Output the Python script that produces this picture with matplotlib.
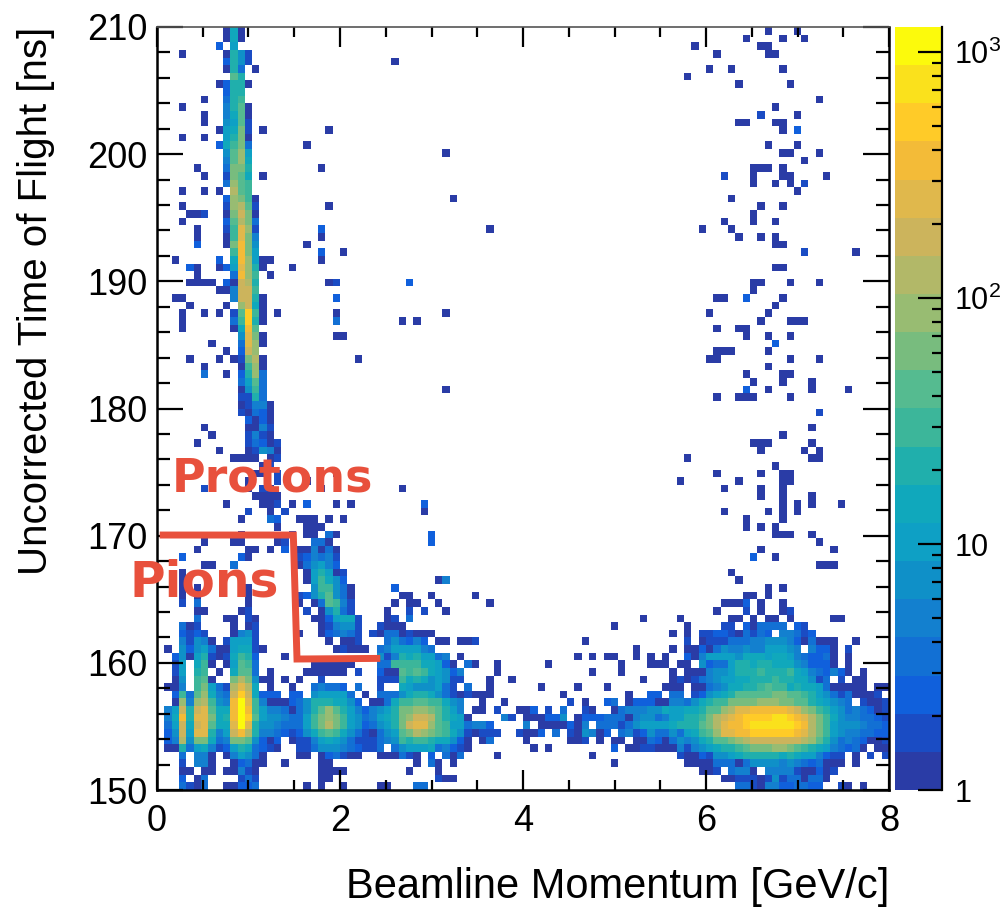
import numpy as np
import matplotlib
matplotlib.use("Agg")
import matplotlib.pyplot as plt
from matplotlib.colors import ListedColormap, LogNorm
from matplotlib.ticker import FixedLocator, MultipleLocator, NullFormatter

plt.rcParams['font.family'] = ['Liberation Sans', 'DejaVu Sans']
plt.rcParams['mathtext.fontset'] = 'custom'
plt.rcParams['mathtext.rm'] = 'Liberation Sans'

# 100 x 100 bins, rows from the top of the plot down
x_edges = np.linspace(0, 8, 101)
y_edges = np.linspace(210, 150, 101)
z_max = 1265

band_colors = ['#2a3ca6', '#1a4cc4', '#1060dc', '#1270d4', '#1380cf', '#0f90c8', '#0ea0c5',
               '#10a8bc', '#20afac', '#3cb69a', '#55bb90', '#78bc7e', '#98bc72', '#b2b868',
               '#ccb45c', '#e0b84c', '#f3bb38', '#ffcb28', '#fae11c', '#fcfa0c']
band_codes = "0123456789abcdefghij"

# colour band: "start_column:bands", "." = empty cell
rows_top = [
    "9:070 83:0 87:0",
    "9:070 80:0 85:0 88:0",
    "8:2.6 73:0 82:00",
    "3:0 9:0851 76:0 83:00",
    "9:2851 32:0",
    "9:083.0 75:0 78:0 85:0",
    "10:a8 72:0",
    "8:02880 79:0 86:0",
    "9:288",
    "6:0 9:389 90:0",
    "3:0 9:48a0 84:0",
    "6:0 9:47a0 82:1 87:0",
    "6:0 9:56a1 79:00 84:00",
    "8:067b1.0 23:0 85:0 87:2",
    "3:0 6:0 9:68b0",
    "8:279b3 20:0 83:0 87:0",
    "9:5ac6 39:0 85:00 90:0",
    "9:4ac7 88:0",
    "5:0 9:3bb8 22:0 81:000 85:0",
    "6:0 9:1ba7 14:0 77:1 81:0 85:00 91:0",
    "9:3ca9 81:0 84:0 86:0 88:1",
    "3:0 6:0 8:0.da9 87:0",
    "9:2cb90 40:0 78:0",
    "3:0 9:1cda1 23:0 82:0 85:0",
    "4:001 9:0beb0 81:0",
    "3:0 9:2adb3 77:0 81:0 84:0",
    "5:0 9:19fc1 22:2 45:0 74:0 78:0",
    "5:0 9:09fb4 22:0 79:0 82:0 84:0",
    "5:2 9:0bgb5 20:0 84:00",
    "10:9gb6 22:2 25:0 88:1 95:0",
    "2:0 8:2 10:7gc600 22:0",
    "4:20 8:02 10:6fc80 18:0 84:00",
    "5:0 10:3gc9 15:0",
]
rows_mid = [
    "4:0000 9:20ed8 23:01 34:2 81:00 86:0 90:0",
    "8:00 10:4ee9 81:0",
    "2:00 10:4ee80 24:2 76:00 80:2 85:0",
    "4:0 9:0 11:ce70 84:0",
    "3:0 6:0 8:0 10:1ah90 16:0 24:0 39:0 75:0 83:0",
    "3:0 10:39h80 24:3 33:0 35:0 82:0 86:000",
    "3:0 10:07ga 76:0 79:00",
    "11:5fb0 24:00 80:0 83:0 86:0",
    "7:0 11:3fc0 84:2",
    "9:0 11:2ec 76:000 83:0",
    "4:0 8:0 10:01bd0 27:0 75:00 86:0 90:0",
    "6:0 11:09c0 83:0",
    "6:3 9:0 11:28c3 80:0 85:00",
    "11:36a3 81:0 85:0 89:0",
    "11:0593 39:0 80:2 83:0 89:0 94:0",
    "11:1183 76:0 79:000 86:0",
    "11:01440",
    "11:10320 90:1",
    "12:2020",
    "6:0 12:0041 89:0",
    "7:0 12:1410 85:0",
    "5:0 12:13201 81:000 89:0",
    "8:0 12:01540 82:0 88:0 90:0",
    "10:0000 15:01 72:0 89:00",
    "14:01 84:0",
    "13:00 16:1 24:0 76:0 82:0 85:00",
    "12:0 16:1 20:0 71:0 79:0 85:00",
    "6:1 12:0 14:10 22:0 33:0 77:0 82:0 85:0",
    "13:0000 82:0 85:0 89:0",
    "9:0 14:001 18:0 20:2 24:0 26:0 36:2 85:0 87:0 89:0 93:0",
    "12:1 15:0 17:1 36:0 77:0 83:0 85:0 87:0",
    "11:0 15:32 19:000 23:0 25:0 80:0 85:0",
    "16:0 20:000 80:0 82:0 84:0",
    "11:0 18:1 20:00 23:30 37:2 84:000 89:0",
]
rows_low = [
    "6:0 10:00 16:01 21:330 37:2 90:0",
    "5:0 12:00 15:0 17:2 19:004030 82:0 92:0",
    "3:2 11:20 19:124341 81:2 84:0",
    "6:00 10:3 19:035642 90:000",
    "3:0 20:068601 78:0",
    "3:0 20:069752 38:04 79:0",
    "3:0 5:0 12:0 21:599530 32:2 83:0 85:0",
    "3:0 5:0 12:0 19:1258a530 33:00 37:0 43:0 80:00 83:0",
    "3:1 5:3 12:0 19:0.03a941 32:0 34:00 38:0 45:0 77:000 80:2 82:0 85:0",
    "5:00 11:01 20:1 22:05831 31:0 34:1 36:1 39:0 76:0 80:1 82:0 85:01",
    "5:3 9:00 12:10 21:0026771 31:01 34:3 66:0 71:0 78:00 81:0 83:00 86:0 92:00",
    "3:301 10:0.01 22:014551 30:1000 62:0 72:0 77:11.203333.21",
    "3:2121 10:0451 19:0 22:023431 29:103301000 70:0.0.1122103132.44312",
    "3:41540.16661 23:0.001 31:353242.00.001 58:0 72:1.0111333445554203000..0",
    "1:0 3:525630067710 24:01000 30:34666643 65:0 70:0.0020354454466654.4220.1",
    "2:250681017982 17:0 30:5148786634.0 57:0.0.00..0 67:0.0 72:204666657776776432230.0",
    "2:16.790.06a93 21:000000 30:33999977620.30..0 53:0 63:0 67:000.00.5233688788777542220.0",
    "2:16.89.0.7aa3.0 20:000000 27:1 30:200a9a976524 46:0 59:0 63:0 70:0.00045568889888976432420.0",
    "2:05.9a0..bdb500.0.0 22:1 30:111978756511 45:0 48:0 66:0 70:0101345667788898877513.1.00",
    "1:004.9b631dfd7.0..0 21:34332 27:3 30:1 33:76555631.3..0 52:0 57:0 61:0 69:000.0034577889a9978776300000.00",
    "2:293ac743ehe7222.22.566663.0.3335788753101000 55:0 64:0 67:22.33.125678aaaaabbaa98653130001",
    "2:0c4cd954gjf940002358887752.003799aa99754..0..0 56:1.0..23.0222 68:0044357899bbbbcccbbaa876543.1001",
    "1:46e8efa77gjg96443 18:0358aca86424568 33:bbccba864 43:00.1..002.1.3..10..0 63:34445 68:5766778aacdffgggggfecb9865343201",
    "1:47g8ffb78gjha6554 18:3369bcb96534678 33:bceeda8760 47:41.000225.02223330455 68:3466889bdefghhhhiihgfdb975443321",
    "1:36e7efa77fjf85543 18:3369bdb96523568 33:beffca9663442 50:4.0000204.33313566 68:667888abdfgghiiiiiihgdb965554332",
    "1:25e6ff846egd84432 18:12579a975310356 33:abdcba97510111 49:1002.3.105402.34125 68:3353679acffgghhhhhhgfdb965443322",
    "1:24d5bb734bba5202 18:011467653111345 33:9899877520.03 50:0 56:001.0.00.003 68:20354578aabcdeeeeeeedca853432001",
    "1:0083674126873210 19:113555432113.3 33:5666734210 51:0.0 62:2.0011 68:000414567889abbbccba987643230.00",
    "3:3.440.046530 19:00.023100 30:000310.2.303 46:0 59:0 71:10021556788888787664211.0.1.1",
    "3:1.440..02300 17:0 22:00 35:0.30.0 62:0 72:0000333035555454323000.0",
    "3:00.00.00410 22:0000 34:0 38:0 74:001.3440.4444100201",
    "3:2.03 11:131 22:00 38:100 77:001110151330330",
    "3:3103 9:00223 20:0 22:0 25:0 30:00 35:33 79:331044223322 93:10 96:0",
]


def parse_rows(rows):
    grid = np.full((100, 100), np.nan)
    for j, row in enumerate(rows):
        for token in row.split():
            start, bands = token.split(":")
            for k, c in enumerate(bands):
                if c != "." and int(start) + k < 100:
                    # middle of the log band the cell falls in
                    grid[j, int(start) + k] = z_max ** ((band_codes.index(c) + 0.5) / 20)
    return grid


counts = np.ma.masked_invalid(parse_rows(rows_top + rows_mid + rows_low))

fig = plt.figure(figsize=(10.03, 9.07), dpi=100)
W, H = 1003.0, 907.0
ax = fig.add_axes([157 / W, 1 - 790 / H, 732 / W, 763 / H])
cax = fig.add_axes([895 / W, 1 - 790 / H, 47 / W, 763 / H])

cmap = ListedColormap(band_colors)
norm = LogNorm(vmin=1, vmax=z_max)
mesh = ax.pcolormesh(x_edges, y_edges, counts, cmap=cmap, norm=norm, linewidth=0)

ax.set_xlim(0, 8)
ax.set_ylim(150, 210)
ax.xaxis.set_major_locator(MultipleLocator(2))
ax.xaxis.set_minor_locator(MultipleLocator(0.5))
ax.yaxis.set_major_locator(MultipleLocator(10))
ax.yaxis.set_minor_locator(MultipleLocator(2))
ax.tick_params(axis='x', which='major', direction='in', top=True, length=14.5, width=1.6, labelsize=26, pad=10)
ax.tick_params(axis='x', which='minor', direction='in', top=True, length=7.5, width=1.6)
ax.tick_params(axis='y', which='major', direction='in', right=True, length=18.5, width=1.6, labelsize=26, pad=7)
ax.tick_params(axis='y', which='minor', direction='in', right=True, length=9.5, width=1.6)
for side in ['left', 'bottom', 'right']:
    ax.spines[side].set_linewidth(1.8)
ax.spines['top'].set_linewidth(1.2)
ax.spines['top'].set_color('#555555')

ax.set_xlabel("Beamline Momentum [GeV/c]", fontsize=30, loc='right', labelpad=20)
ax.set_ylabel("Uncorrected Time of Flight [ns]", fontsize=29, loc='top', labelpad=23)

cbar = fig.colorbar(mesh, cax=cax)
cbar.outline.set_visible(False)
cax.spines['right'].set_visible(True)
cax.spines['right'].set_linewidth(1.6)
cax.yaxis.set_major_locator(FixedLocator([1, 10, 100, 1000]))
cax.yaxis.set_minor_locator(FixedLocator([m * d for d in [1, 10, 100, 1000] for m in range(2, 10) if m * d < z_max]))
cax.set_yticklabels(['1', '10', r'$\mathdefault{10^{2}}$', r'$\mathdefault{10^{3}}$'])
cax.yaxis.set_minor_formatter(NullFormatter())
cax.tick_params(axis='y', which='major', direction='in', length=17, width=1.6, labelsize=22, pad=9)
cax.tick_params(axis='y', which='minor', direction='in', length=7.5, width=1.6)

# hand-drawn selection line and labels
red = '#e8503c'
ax.plot([0.03, 1.49, 1.53, 2.44], [170.05, 170.05, 160.3, 160.35], color=red, lw=5,
        solid_joinstyle='miter', solid_capstyle='butt', clip_on=False, zorder=5)
ax.text(0.164, 173.5, "Protons", color=red, fontsize=33, family='DejaVu Sans', weight='bold', zorder=6)
ax.text(-0.3, 165.2, "Pions", color=red, fontsize=35, family='DejaVu Sans', weight='bold', zorder=6)

fig.savefig("out.png", dpi=100)
